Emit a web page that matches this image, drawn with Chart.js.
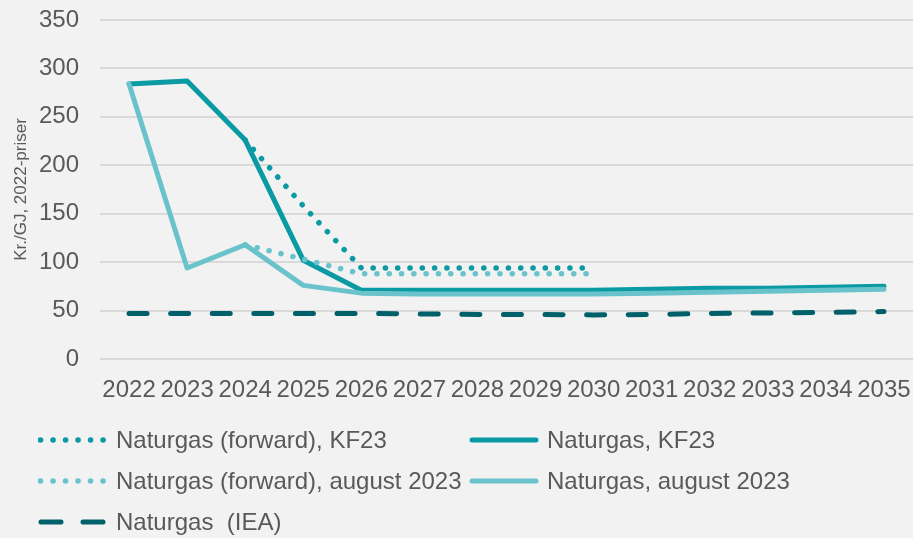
<!DOCTYPE html>
<html>
<head>
<meta charset="utf-8">
<script src="https://cdn.jsdelivr.net/npm/chart.js@4.4.1/dist/chart.umd.min.js"></script>
<style>
    body { margin: 0; background: #f2f2f2; }
    #wrap { position: relative; width: 913px; height: 538px; background: #f2f2f2; }
    #legend { position: absolute; left: 0; top: 0; width: 913px; height: 538px; pointer-events: none;
        font-family: "Liberation Sans", Arial, sans-serif; font-size: 24px; color: #595959; }
    .item { position: absolute; height: 30px; display: flex; align-items: center; white-space: pre; }
    .item svg { margin-right: 8px; }
</style>
</head>
<body>
<div id="wrap">
    <canvas id="gasChart" width="913" height="538"></canvas>
    <div id="legend"></div>
</div>
<script>
const years = ['2022', '2023', '2024', '2025', '2026', '2027', '2028', '2029', '2030', '2031', '2032', '2033', '2034', '2035'];
const forwardKF23 = [null, null, 226, 158, 94, 94, 94, 94, 94, null, null, null, null, null];
const naturgasKF23 = [284, 287, 226, 102, 71, 71, 71, 71, 71, 72, 73, 73, 74, 75];
const forwardAug = [null, null, 118, 103, 88, 88, 88, 88, 88, null, null, null, null, null];
const naturgasAug = [284, 94, 118, 76, 68, 67, 67, 67, 67, 68, 69, 70, 71, 72];
const naturgasIEA = [47, 47, 47, 47, 47, 46.5, 46, 46, 45.5, 46, 47, 47.5, 48, 49];
const yTicks = [0, 50, 100, 150, 200, 250, 300, 350];

const tekst = '#595959';
const fontNavn = '"Liberation Sans", Arial, sans-serif';

document.addEventListener("DOMContentLoaded", function () {
    const serier = [
        { label: 'Naturgas (forward), KF23', data: forwardKF23, color: '#0a9aa4', width: 5.5, dash: [0.1, 12.2], order: 0 },
        { label: 'Naturgas, KF23', data: naturgasKF23, color: '#0a9aa4', width: 5, dash: [], order: 3 },
        { label: 'Naturgas (forward), august 2023', data: forwardAug, color: '#6ac3cb', width: 5.5, dash: [0.1, 12.2], order: 1 },
        { label: 'Naturgas, august 2023', data: naturgasAug, color: '#6ac3cb', width: 5, dash: [], order: 2 },
        { label: 'Naturgas  (IEA)', data: naturgasIEA, color: '#00606a', width: 5, dash: [18, 23.6], order: 4 }
    ];

    const ctx = document.getElementById('gasChart').getContext('2d');
    new Chart(ctx, {
        type: 'line',
        data: {
            labels: years,
            datasets: serier.map(function (s) {
                return {
                    label: s.label,
                    data: s.data,
                    borderColor: s.color,
                    backgroundColor: s.color,
                    borderWidth: s.width,
                    borderDash: s.dash,
                    borderCapStyle: 'round',
                    borderJoinStyle: 'round',
                    pointRadius: 0,
                    tension: 0,
                    fill: false,
                    order: s.order
                };
            })
        },
        options: {
            responsive: false,
            animation: false,
            layout: { padding: { top: 20, left: 0, right: 0, bottom: 134 } },
            plugins: {
                legend: { display: false },
                tooltip: { enabled: false }
            },
            scales: {
                x: {
                    offset: true,
                    grid: { display: false, offset: true },
                    border: { display: false },
                    ticks: {
                        color: tekst,
                        font: { family: fontNavn, size: 24 },
                        autoSkip: false,
                        maxRotation: 0,
                        padding: 9
                    },
                    afterFit: function (scale) {
                        scale.height = 45;
                        scale.paddingLeft = 0;
                        scale.paddingRight = 0;
                    }
                },
                y: {
                    min: 0,
                    max: 350,
                    grid: { color: '#d9d9d9', lineWidth: 2, drawTicks: false },
                    border: { display: false },
                    ticks: {
                        color: tekst,
                        font: { family: fontNavn, size: 24 },
                        padding: 21
                    },
                    afterBuildTicks: function (scale) {
                        scale.ticks = yTicks.map(function (v) { return { value: v }; });
                    },
                    afterFit: function (scale) {
                        scale.width = 100;
                        scale.paddingTop = 0;
                        scale.paddingBottom = 0;
                    },
                    title: {
                        display: true,
                        text: 'Kr./GJ, 2022-priser',
                        color: tekst,
                        font: { family: fontNavn, size: 17 },
                        padding: { top: 11, bottom: 0 }
                    }
                }
            }
        }
    });

    // legende i to kolonner som i originalen
    const pladser = [
        { x: 38, y: 440 }, { x: 469, y: 440 },
        { x: 38, y: 481 }, { x: 469, y: 481 },
        { x: 38, y: 522 }
    ];
    const legend = document.getElementById('legend');
    serier.forEach(function (s, i) {
        const el = document.createElement('div');
        el.className = 'item';
        el.style.left = pladser[i].x + 'px';
        el.style.top = (pladser[i].y - 15) + 'px';
        let dash = '';
        let x1 = 3, x2 = 67;
        if (s.dash.length && s.dash[0] < 1) { dash = 'stroke-dasharray="0.1 12.4"'; x1 = 2.5; x2 = 66; }
        else if (s.dash.length) { dash = 'stroke-dasharray="20 22"'; x1 = 3; x2 = 66; }
        el.innerHTML = '<svg width="70" height="12"><line x1="' + x1 + '" y1="6" x2="' + x2 + '" y2="6" stroke="' + s.color +
            '" stroke-width="' + s.width + '" stroke-linecap="round" ' + dash + '/></svg><span>' + s.label + '</span>';
        legend.appendChild(el);
    });
});
</script>
</body>
</html>
